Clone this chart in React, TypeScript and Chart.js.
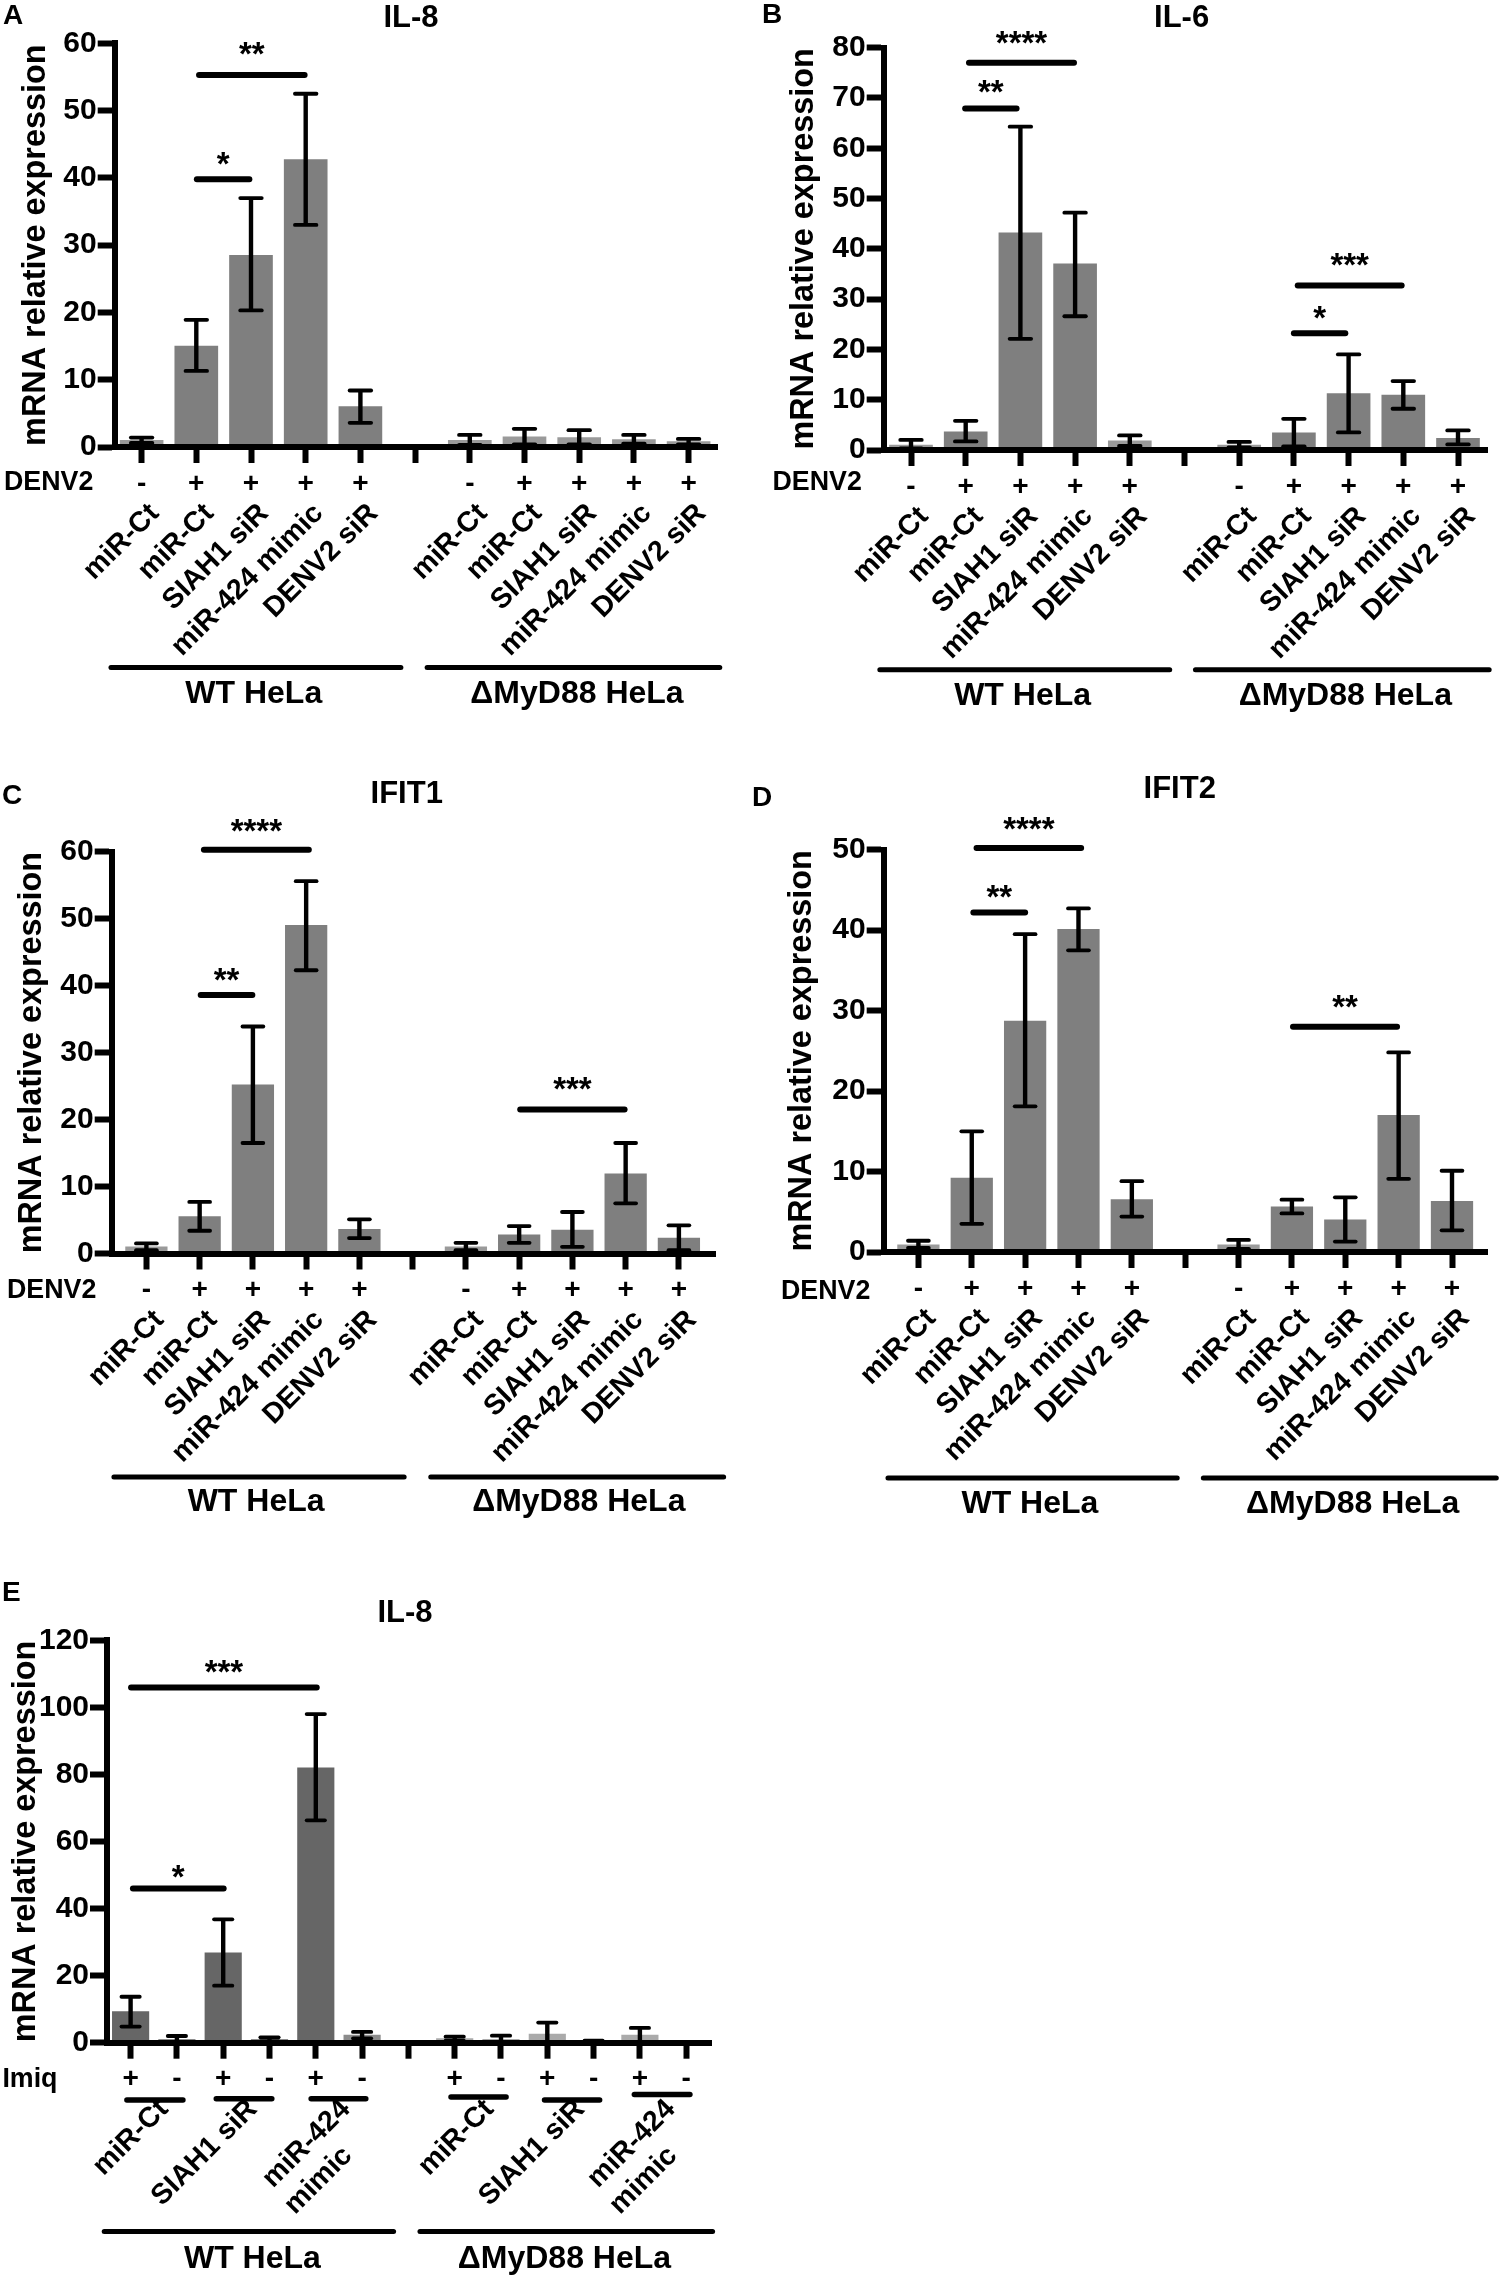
import { useEffect, useRef } from "react";
import { Chart, registerables } from "chart.js";

Chart.register(...registerables);

const FONT = "'Liberation Sans', Arial, sans-serif";

const slotLabels = ["miR-Ct", "miR-Ct", "SIAH1 siR", "miR-424 mimic", "DENV2 siR", "miR-Ct", "miR-Ct", "SIAH1 siR", "miR-424 mimic", "DENV2 siR"];
const slotLabelTicks = [0, 1, 2, 3, 4, 6, 7, 8, 9, 10];
const denvSigns = ["-", "+", "+", "+", "+", "", "-", "+", "+", "+", "+"];

// null = the empty slot between the two cell lines
const panelAValues = [1, 15, 28.5, 42.7, 6, null, 1, 1.5, 1.4, 1.1, 0.8];
const panelAUpper = [1.4, 18.9, 37, 52.5, 8.4, null, 1.8, 2.7, 2.5, 1.8, 1.2];
const panelALower = [0.6, 11.3, 20.3, 33, 3.6, null, 0.3, 0.4, 0.4, 0.5, 0.4];
const panelAStars = [
  { from: 1.01, to: 1.97, y: 39.8, text: "*" },
  { from: 1.05, to: 2.98, y: 55.3, text: "**" },
];

const panelBValues = [1, 3.6, 43.2, 37, 1.8, null, 1, 3.4, 11.2, 10.9, 2.3];
const panelBUpper = [2, 5.8, 64.3, 47.2, 2.9, null, 1.6, 6.2, 19, 13.7, 3.9];
const panelBLower = [0.3, 1.7, 22.1, 26.6, 0.8, null, 0.5, 0.7, 3.5, 8.2, 1.1];
const panelBStars = [
  { from: 0.99, to: 1.93, y: 67.9, text: "**" },
  { from: 1.06, to: 2.98, y: 77, text: "****" },
  { from: 7, to: 7.94, y: 23.2, text: "*" },
  { from: 7.07, to: 8.97, y: 32.7, text: "***" },
];

const panelCValues = [1, 5.5, 25.2, 49, 3.6, null, 1, 2.8, 3.5, 11.9, 2.3];
const panelCUpper = [1.5, 7.7, 33.9, 55.6, 5.1, null, 1.6, 4.1, 6.2, 16.5, 4.2];
const panelCLower = [0.5, 3.4, 16.5, 42.3, 2.3, null, 0.5, 1.6, 1, 7.5, 0.5];
const panelCStars = [
  { from: 1.02, to: 1.99, y: 38.6, text: "**" },
  { from: 1.08, to: 3.05, y: 60.3, text: "****" },
  { from: 7.02, to: 8.98, y: 21.5, text: "***" },
];

const panelDValues = [0.9, 9.2, 28.7, 40.1, 6.5, null, 0.9, 5.6, 4, 17, 6.3];
const panelDUpper = [1.4, 15, 39.5, 42.7, 8.8, null, 1.5, 6.5, 6.8, 24.8, 10.1];
const panelDLower = [0.5, 3.5, 18.1, 37.5, 4.4, null, 0.4, 4.8, 1.3, 9.1, 2.7];
const panelDStars = [
  { from: 1.03, to: 2, y: 42.2, text: "**" },
  { from: 1.09, to: 3.05, y: 50.2, text: "****" },
  { from: 7.02, to: 8.97, y: 28, text: "**" },
];

const panelEValues = [9.3, 1, 26.8, 1, 82, 2.3, null, 1.2, 1, 2.6, 0.5, 2.3, 0.2];
const panelEUpper = [13.7, 2, 36.8, 1.6, 98, 3.2, null, 1.8, 2.1, 6, 0.6, 4.4, null];
const panelELower = [4.8, 0.2, 17, 0.4, 66.3, 1.3, null, 0.6, 0, 0, 0.4, 0, null];
const panelEStars = [
  { from: 0.05, to: 2.01, y: 46, text: "*" },
  { from: 0.01, to: 4.02, y: 105.9, text: "***" },
];
const imiqSigns = ["+", "-", "+", "-", "+", "-", "", "+", "-", "+", "-", "+", "-"];
// trailing spaces centre the short second line, the axis can only right-align rotated text
const imiqLabels = ["miR-Ct", "SIAH1 siR", ["miR-424", "mimic    "], "miR-Ct", "SIAH1 siR", ["miR-424", "mimic    "]];
const imiqLabelTicks = [0.44, 2.36, 4.37, 7.47, 9.43, 11.39];
const imiqBrackets = [
  { from: -0.08, to: 1.13, drop: 57.4 },
  { from: 1.85, to: 3.05, drop: 56 },
  { from: 3.9, to: 5.08, drop: 56 },
  { from: 6.92, to: 8.11, drop: 54.2 },
  { from: 8.94, to: 10.13, drop: 57.4 },
  { from: 10.88, to: 12.08, drop: 51.9 },
];

type Panel = {
  letter: string;
  title: string;
  values: (number | null)[];
  upper: (number | null)[];
  lower: (number | null)[];
  stars: { from: number; to: number; y: number; text: string }[];
  starLifts: number[];
  signs: string[];
  labels: (string | string[])[];
  labelTicks: number[];
  brackets?: { from: number; to: number; drop: number }[];
  rowName: string;
  yMax: number;
  yStep: number;
  // placement of the canvas on the page and of the plot inside the canvas
  box: [number, number, number, number];
  plot: { left: number; right: number; top: number; bottom: number };
  firstTick: number;
  spacing: number;
  barWidth: number;
  barColor: string[];
  yTitleX: number;
  letterPos: [number, number];
  titlePos: [number, number];
  rowPos: [number, number];
  groups: { from: number; to: number; text: string; textX: number }[];
  groupDrop: number;
  groupTextDrop: number;
};

const DARK = "#7f7f7f";
const PALE = "#9a9a9a";

const panels: Panel[] = [
  {
    letter: "A", title: "IL-8", values: panelAValues, upper: panelAUpper, lower: panelALower, stars: panelAStars, starLifts: [18, 23],
    signs: denvSigns, labels: slotLabels, labelTicks: slotLabelTicks, rowName: "DENV2", yMax: 60, yStep: 10,
    box: [0, 0, 750, 740], plot: { left: 114.7, right: 717, top: 43.3, bottom: 447 },
    firstTick: 141.6, spacing: 54.7, barWidth: 43,
    barColor: [PALE, DARK, DARK, DARK, DARK, DARK, PALE, PALE, PALE, PALE, PALE],
    yTitleX: 36.5, letterPos: [3, 16], titlePos: [411, 18.6], rowPos: [4, 482.8],
    groups: [
      { from: -0.56, to: 4.74, text: "WT HeLa", textX: 2.05 },
      { from: 5.22, to: 10.57, text: "ΔMyD88 HeLa", textX: 7.96 },
    ],
    groupDrop: 220.6, groupTextDrop: 247.6,
  },
  {
    letter: "B", title: "IL-6", values: panelBValues, upper: panelBUpper, lower: panelBLower, stars: panelBStars, starLifts: [19, 22, 18, 23],
    signs: denvSigns, labels: slotLabels, labelTicks: slotLabelTicks, rowName: "DENV2", yMax: 80, yStep: 10,
    box: [750, 0, 750, 740], plot: { left: 133.7, right: 737, top: 47.7, bottom: 450 },
    firstTick: 161, spacing: 54.7, barWidth: 43,
    barColor: [PALE, DARK, DARK, DARK, PALE, DARK, PALE, DARK, DARK, DARK, DARK],
    yTitleX: 54.5, letterPos: [12, 15.4], titlePos: [431.6, 18.6], rowPos: [22.5, 482.8],
    groups: [
      { from: -0.57, to: 4.73, text: "WT HeLa", textX: 2.04 },
      { from: 5.2, to: 10.57, text: "ΔMyD88 HeLa", textX: 7.94 },
    ],
    groupDrop: 219.7, groupTextDrop: 246.2,
  },
  {
    letter: "C", title: "IFIT1", values: panelCValues, upper: panelCUpper, lower: panelCLower, stars: panelCStars, starLifts: [17.5, 21, 23],
    signs: denvSigns, labels: slotLabels, labelTicks: slotLabelTicks, rowName: "DENV2", yMax: 60, yStep: 10,
    box: [0, 760, 750, 760], plot: { left: 111.7, right: 715, top: 91.7, bottom: 493.5 },
    firstTick: 146.4, spacing: 53.25, barWidth: 41.6,
    barColor: [PALE, DARK, DARK, DARK, DARK, DARK, PALE, DARK, DARK, DARK, DARK],
    yTitleX: 32.5, letterPos: [2, 36.4], titlePos: [406.7, 34.9], rowPos: [7, 530.8],
    groups: [
      { from: -0.61, to: 4.84, text: "WT HeLa", textX: 2.06 },
      { from: 5.34, to: 10.84, text: "ΔMyD88 HeLa", textX: 8.12 },
    ],
    groupDrop: 223.5, groupTextDrop: 249,
  },
  {
    letter: "D", title: "IFIT2", values: panelDValues, upper: panelDUpper, lower: panelDLower, stars: panelDStars, starLifts: [18, 22, 22],
    signs: denvSigns, labels: slotLabels, labelTicks: slotLabelTicks, rowName: "DENV2", yMax: 50, yStep: 10,
    box: [750, 760, 750, 760], plot: { left: 133.7, right: 737, top: 89.7, bottom: 492 },
    firstTick: 168.4, spacing: 53.36, barWidth: 41.6,
    barColor: [PALE, DARK, DARK, DARK, DARK, DARK, PALE, DARK, DARK, DARK, DARK],
    yTitleX: 52, letterPos: [2, 37.8], titlePos: [429.7, 29], rowPos: [31, 532],
    groups: [
      { from: -0.57, to: 4.85, text: "WT HeLa", textX: 2.09 },
      { from: 5.34, to: 10.83, text: "ΔMyD88 HeLa", textX: 8.14 },
    ],
    groupDrop: 225.9, groupTextDrop: 252,
  },
  {
    letter: "E", title: "IL-8", values: panelEValues, upper: panelEUpper, lower: panelELower, stars: panelEStars, starLifts: [14, 18],
    signs: imiqSigns, labels: imiqLabels, labelTicks: imiqLabelTicks, brackets: imiqBrackets, rowName: "Imiq", yMax: 120, yStep: 20,
    box: [0, 1560, 750, 720], plot: { left: 107, right: 711, top: 80.3, bottom: 482.7 },
    firstTick: 130.6, spacing: 46.3, barWidth: 36.5,
    barColor: ["#666666", "#8c8c8c", "#666666", "#8c8c8c", "#666666", "#8c8c8c", "#aaaaaa", "#aaaaaa", "#aaaaaa", "#aaaaaa", "#aaaaaa", "#aaaaaa", "#aaaaaa"],
    yTitleX: 26, letterPos: [2, 33], titlePos: [405, 53.7], rowPos: [2.4, 519.8],
    groups: [
      { from: -0.57, to: 5.68, text: "WT HeLa", textX: 2.63 },
      { from: 6.25, to: 12.57, text: "ΔMyD88 HeLa", textX: 9.37 },
    ],
    groupDrop: 188.8, groupTextDrop: 216.8,
  },
];

function drawText(ctx: CanvasRenderingContext2D, text: string, x: number, y: number, size: number, align: CanvasTextAlign, baseline: CanvasTextBaseline) {
  ctx.font = `bold ${size}px ${FONT}`;
  ctx.textAlign = align;
  ctx.textBaseline = baseline;
  ctx.fillStyle = "#000";
  ctx.fillText(text, x, y);
}

function strokeLine(ctx: CanvasRenderingContext2D, x1: number, y1: number, x2: number, y2: number, width: number, cap: CanvasLineCap) {
  ctx.lineWidth = width;
  ctx.lineCap = cap;
  ctx.strokeStyle = "#000";
  ctx.beginPath();
  ctx.moveTo(x1, y1);
  ctx.lineTo(x2, y2);
  ctx.stroke();
}

// error bars, significance bars and every label that is not an axis label
function panelExtras(panel: Panel) {
  const capHalf = panel.barWidth / 4;
  return {
    id: "panelExtras",
    afterDatasetsDraw(chart: any) {
      const { ctx, scales } = chart;
      const { x, y } = scales;
      ctx.save();
      panel.upper.forEach((hi, i) => {
        const lo = panel.lower[i];
        if (hi === null || lo === null) return;
        const px = x.getPixelForValue(i);
        strokeLine(ctx, px, y.getPixelForValue(lo), px, y.getPixelForValue(hi), 4.4, "butt");
        strokeLine(ctx, px - capHalf, y.getPixelForValue(hi), px + capHalf, y.getPixelForValue(hi), 3.8, "round");
        strokeLine(ctx, px - capHalf, y.getPixelForValue(lo), px + capHalf, y.getPixelForValue(lo), 3.8, "round");
      });
      ctx.restore();
    },
    afterDraw(chart: any) {
      const { ctx, scales } = chart;
      const { x, y } = scales;
      const zero = y.getPixelForValue(0);
      ctx.save();
      panel.stars.forEach((star, i) => {
        const py = y.getPixelForValue(star.y);
        strokeLine(ctx, x.getPixelForValue(star.from), py, x.getPixelForValue(star.to), py, 6, "round");
        // the star glyph's centre sits about 13.5px above the baseline
        drawText(ctx, star.text, x.getPixelForValue((star.from + star.to) / 2), py - panel.starLifts[i] + 13.5, 33, "center", "alphabetic");
      });
      panel.brackets?.forEach((b) => {
        strokeLine(ctx, x.getPixelForValue(b.from), zero + b.drop, x.getPixelForValue(b.to), zero + b.drop, 5.5, "round");
      });
      panel.groups.forEach((g) => {
        strokeLine(ctx, x.getPixelForValue(g.from), zero + panel.groupDrop, x.getPixelForValue(g.to), zero + panel.groupDrop, 5, "round");
        drawText(ctx, g.text, x.getPixelForValue(g.textX), zero + panel.groupTextDrop, 32, "center", "middle");
      });
      drawText(ctx, panel.letter, panel.letterPos[0], panel.letterPos[1], 28, "left", "middle");
      drawText(ctx, panel.title, panel.titlePos[0], panel.titlePos[1], 31, "center", "middle");
      drawText(ctx, panel.rowName, panel.rowPos[0], panel.rowPos[1], 26.8, "left", "middle");
      ctx.restore();
    },
  };
}

function PanelChart({ panel }: { panel: Panel }) {
  const canvasRef = useRef<HTMLCanvasElement>(null);

  useEffect(() => {
    if (!canvasRef.current) return;
    const { plot, box, firstTick, spacing } = panel;
    const xMin = (plot.left - firstTick) / spacing;
    const xMax = (plot.right - firstTick) / spacing;
    const signRowHeight = 48;
    const yTitleSize = 32.4;
    const points = panel.values.flatMap((v, i) => (v === null ? [] : [{ x: i, y: v }]));
    const colors = panel.values.flatMap((v, i) => (v === null ? [] : [panel.barColor[i]]));

    const chart = new Chart(canvasRef.current, {
      type: "bar",
      data: {
        datasets: [
          {
            data: points,
            backgroundColor: colors,
            barThickness: panel.barWidth,
            xAxisID: "x",
            yAxisID: "y",
          },
        ],
      },
      options: {
        animation: false,
        responsive: false,
        devicePixelRatio: 1,
        events: [],
        layout: { padding: { top: plot.top, right: box[2] - plot.right, left: 0, bottom: 0 } },
        plugins: { legend: { display: false }, tooltip: { enabled: false } },
        scales: {
          x: {
            type: "linear",
            position: "bottom",
            weight: 0,
            min: xMin,
            max: xMax,
            offset: false,
            afterFit: (s: any) => {
              s.height = signRowHeight;
            },
            grid: { offset: false, drawOnChartArea: false, tickLength: 16, tickWidth: 6, tickColor: "#000", z: 1 },
            border: { display: true, color: "#000", width: 6, z: 2 },
            ticks: {
              stepSize: 1,
              includeBounds: false,
              autoSkip: false,
              maxRotation: 0,
              minRotation: 0,
              padding: 4,
              color: "#000",
              font: { family: FONT, weight: "bold", size: 28 },
              callback: (v: any) => panel.signs[v] ?? "",
            },
          },
          x2: {
            type: "linear",
            axis: "x",
            position: "bottom",
            weight: 1,
            min: xMin,
            max: xMax,
            offset: false,
            afterFit: (s: any) => {
              s.height = box[3] - plot.bottom - signRowHeight;
            },
            afterBuildTicks: (s: any) => {
              s.ticks = panel.labelTicks.map((value) => ({ value }));
            },
            grid: { display: false, drawTicks: false, offset: false },
            border: { display: false },
            ticks: {
              autoSkip: false,
              includeBounds: false,
              minRotation: 45,
              maxRotation: 45,
              padding: 2,
              labelOffset: 13,
              color: "#000",
              font: { family: FONT, weight: "bold", size: 28.5, lineHeight: 1.2 },
              callback: (_v: any, i: number) => panel.labels[i],
            },
          },
          y: {
            min: 0,
            max: panel.yMax,
            afterFit: (s: any) => {
              s.width = plot.left;
            },
            grid: { drawOnChartArea: false, tickLength: 17, tickWidth: 6, tickColor: "#000", z: 1 },
            border: { display: true, color: "#000", width: 6, z: 2 },
            title: {
              display: true,
              text: "mRNA relative expression",
              color: "#000",
              font: { family: FONT, weight: "bold", size: yTitleSize, lineHeight: 1 },
              padding: { top: panel.yTitleX - yTitleSize / 2, bottom: 0 },
            },
            ticks: {
              stepSize: panel.yStep,
              padding: 1,
              color: "#000",
              font: { family: FONT, weight: "bold", size: 30 },
            },
          },
        },
      } as any,
      plugins: [panelExtras(panel)],
    });

    return () => chart.destroy();
  }, [panel]);

  return (
    <canvas
      ref={canvasRef}
      width={panel.box[2]}
      height={panel.box[3]}
      style={{ position: "absolute", left: panel.box[0], top: panel.box[1], width: panel.box[2], height: panel.box[3] }}
    />
  );
}

export default function App() {
  return (
    <div style={{ position: "absolute", left: 0, top: 0, width: 1500, height: 2280, background: "#fff" }}>
      {panels.map((panel) => (
        <PanelChart key={panel.letter} panel={panel} />
      ))}
    </div>
  );
}
